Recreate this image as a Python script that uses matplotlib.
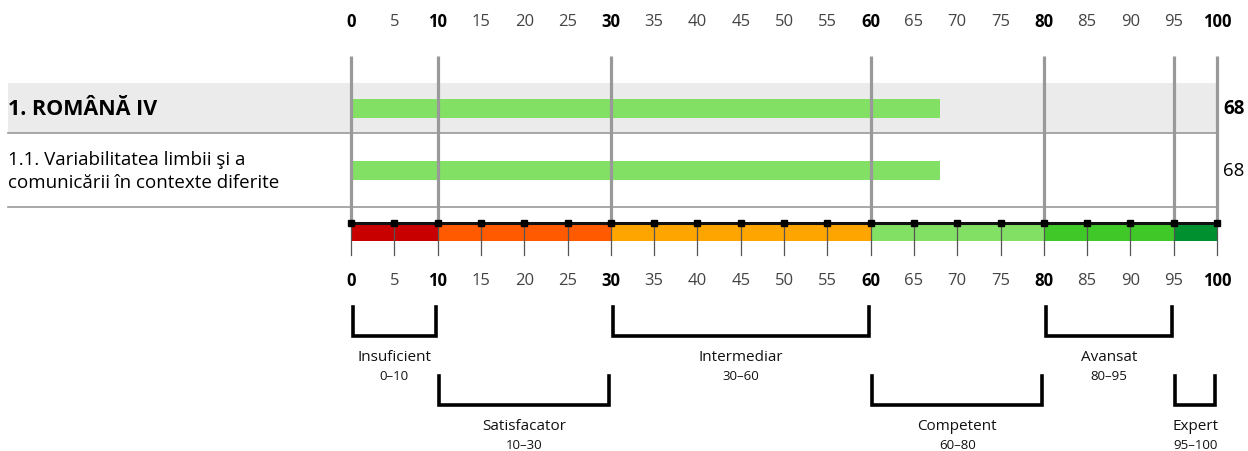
import matplotlib.pyplot as plt

plt.rcParams['font.family'] = ['Open Sans', 'Noto Sans', 'DejaVu Sans']

rows = ['1. ROMÂNĂ IV', '1.1. Variabilitatea limbii şi a\ncomunicării în contexte diferite']
scores = [68, 68]
ticks = list(range(0, 101, 5))
major = [0, 10, 30, 60, 80, 100]
grid_lines = [0, 10, 30, 60, 80, 95, 100]
levels = ['Insuficient', 'Satisfacator', 'Intermediar', 'Competent', 'Avansat', 'Expert']
bounds = [(0, 10), (10, 30), (30, 60), (60, 80), (80, 95), (95, 100)]
level_colors = ['#c80000', '#ff5a00', '#ffa500', '#82e065', '#40c828', '#009030']
bar_color = '#82e065'


def main():
    fig = plt.figure(figsize=(12.48, 4.52), dpi=100)
    ax = fig.add_axes([0, 0, 1, 1])
    # pixel mapping: x=0 -> 351px, x=100 -> 1217px
    k = 8.66
    ax.set_xlim(-351 / k, (1248 - 351) / k)
    ax.set_ylim(452, 0)
    ax.axis('off')
    left = (8 - 351) / k

    # row band and separators
    ax.fill_between([left, 100], 84, 134, color='#ebebeb', lw=0, zorder=0)
    ax.plot([left, 100], [134, 134], color='#999999', lw=1.2, zorder=1)
    ax.plot([left, 100], [208, 208], color='#999999', lw=1.2, zorder=1)

    # bars
    row_y = [109.5, 171.5]
    ax.barh(row_y, scores, height=19, left=0, color=bar_color, zorder=2)

    # vertical grid lines
    for g in grid_lines:
        ax.plot([g, g], [57, 224], color='#999999', lw=2.3, zorder=3,
                solid_capstyle='butt')

    # row labels and values
    ax.text(left, row_y[0], rows[0], fontsize=15.5, fontweight='bold',
            va='center', ha='left')
    ax.text(left, row_y[1], rows[1], fontsize=13.5, va='center',
            ha='left', linespacing=1.3)
    ax.text(100.75, row_y[0], str(scores[0]), fontsize=13.5,
            fontweight='bold', va='center', ha='left')
    ax.text(100.75, row_y[1], str(scores[1]), fontsize=13.5,
            va='center', ha='left')

    # tick labels top and bottom
    for t in ticks:
        bold = t in major
        for yy in (22, 281):
            ax.text(t, yy, str(t), fontsize=12, ha='center', va='center',
                    fontweight='bold' if bold else 'normal',
                    color='#000000' if bold else '#444444')

    # color scale
    for (a, b), c in zip(bounds, level_colors):
        ax.fill_between([a, b], 224, 242, color=c, lw=0, zorder=2)
    for t in ticks:
        ax.plot([t, t], [224, 256], color='#555555', lw=0.9, zorder=3)
    ax.plot([0, 100], [224, 224], color='#111111', lw=2.2, zorder=4)
    ax.plot(ticks, [224] * len(ticks), 's', color='#000000', ms=4.5,
            zorder=5)

    # level brackets
    for i, ((a, b), name) in enumerate(zip(bounds, levels)):
        top = 308 if i % 2 == 0 else 377
        bot = top + 29
        ax.plot([a + 0.2, a + 0.2, b - 0.2, b - 0.2], [top, bot, bot, top],
                color='#000000', lw=2.6, solid_joinstyle='miter', zorder=3)
        mid = (a + b) / 2
        ax.text(mid, bot + 21, name, fontsize=11, ha='center', va='center',
                color='#111111')
        ax.text(mid, bot + 40, f'{a}–{b}', fontsize=9.5, ha='center',
                va='center', color='#111111')

    fig.savefig('out.png', dpi=100)


if __name__ == "__main__":
    main()
